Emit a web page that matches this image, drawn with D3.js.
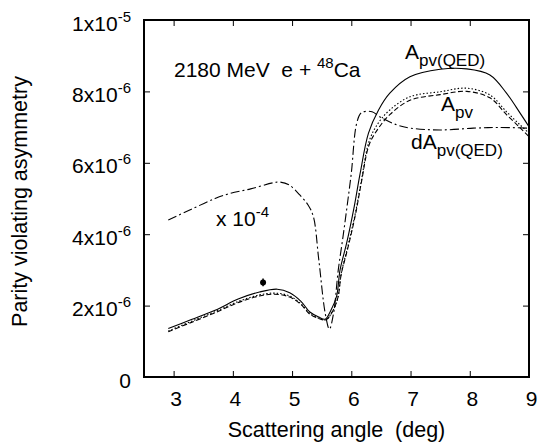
<!DOCTYPE html>
<html>
<head>
<meta charset="utf-8">
<script src="https://d3js.org/d3.v7.min.js"></script>
<style>
body { margin: 0; background: #fff; }
svg text { font-family: "Liberation Sans", Arial, sans-serif; fill: #000; white-space: pre; }
</style>
</head>
<body>
<svg id="vis" width="539" height="445"></svg>
<script>
// values, asymmetry in units of 1e-6
var angleQed = [2.91, 3.3, 3.7, 4.1, 4.45, 4.75, 4.96, 5.15, 5.3, 5.45, 5.56, 5.65, 5.75, 5.81, 5.92, 6.05, 6.15, 6.29, 6.46, 6.65, 6.99, 7.5, 7.95, 8.34, 8.62, 8.85, 9.0];
var apvQed   = [1.36, 1.61, 1.87, 2.19, 2.38, 2.46, 2.36, 2.12, 1.82, 1.68, 1.62, 1.85, 2.25, 3.0, 3.74, 4.78, 5.71, 6.83, 7.48, 7.95, 8.41, 8.62, 8.63, 8.46, 7.95, 7.39, 7.01];

var angleApv = [2.91, 3.3, 3.7, 4.1, 4.45, 4.7, 4.96, 5.15, 5.3, 5.45, 5.57, 5.67, 5.77, 5.83, 5.94, 6.07, 6.17, 6.3, 6.45, 6.65, 6.99, 7.5, 7.95, 8.34, 8.62, 8.85, 9.0];
var apv      = [1.29, 1.56, 1.83, 2.12, 2.3, 2.35, 2.27, 2.05, 1.78, 1.65, 1.6, 1.8, 2.2, 2.9, 3.65, 4.6, 5.5, 6.6, 7.1, 7.48, 7.85, 7.99, 8.09, 7.9, 7.43, 7.06, 6.83];
var apvDash  = [1.27, 1.53, 1.8, 2.09, 2.27, 2.32, 2.24, 2.03, 1.76, 1.64, 1.6, 1.8, 2.2, 2.88, 3.6, 4.55, 5.45, 6.5, 6.95, 7.35, 7.75, 7.91, 8.0, 7.82, 7.35, 6.98, 6.73];

var angleDA = [2.91, 3.3, 3.7, 3.95, 4.3, 4.68, 4.8, 4.95, 5.13, 5.27, 5.36, 5.45, 5.56, 5.63, 5.7, 5.78, 5.86, 5.93, 6.0, 6.09, 6.17, 6.35, 6.48, 6.77, 7.0, 7.5, 8.06, 8.5, 9.0];
var dApvQed = [4.4, 4.7, 5.0, 5.14, 5.27, 5.44, 5.46, 5.38, 5.1, 4.82, 4.49, 3.3, 1.78, 1.34, 1.78, 3.0, 3.93, 4.8, 5.71, 7.1, 7.4, 7.43, 7.29, 7.06, 6.97, 6.92, 6.97, 6.99, 6.97];

// measured point
var dataAngle = [4.51];
var dataApv = [2.65];
var dataErr = [0.11];

var xTicks = [3, 4, 5, 6, 7, 8, 9];
var yTicks = [0, 2, 4, 6, 8, 10];
var yTickMant = ["0", "2x10", "4x10", "6x10", "8x10", "1x10"];
var yTickExp = ["", "-6", "-6", "-6", "-6", "-5"];

var svg = d3.select("#vis"),
    width = +svg.attr("width"),
    height = +svg.attr("height");

var margin = {left: 144, top: 20, right: 10, bottom: 68};

var x = d3.scaleLinear().domain([2.5, 9]).range([margin.left, width - margin.right]);
var y = d3.scaleLinear().domain([0, 10]).range([height - margin.bottom, margin.top]);

var g = svg.append("g");

// text with sub / superscript parts
function rich(xp, yp, parts, anchor, size) {
  var t = g.append("text")
    .attr("x", xp).attr("y", yp)
    .attr("text-anchor", anchor || "start")
    .attr("font-size", size || 21);
  var shift = 0;
  parts.forEach(function(p) {
    var want = p.sup ? -9 : (p.sub ? 7 : 0);
    t.append("tspan")
      .attr("dy", want - shift)
      .attr("font-size", p.sup ? 15 : (p.sub ? 17 : (size || 21)))
      .text(p.t);
    shift = want;
  });
  return t;
}

// axes, ticks inward on all sides
var tl = 6;
var axB = g.append("g").attr("transform", "translate(0," + y(0) + ")")
  .call(d3.axisBottom(x).tickValues(xTicks).tickSize(-tl).tickFormat(""));
var axT = g.append("g").attr("transform", "translate(0," + y(10) + ")")
  .call(d3.axisTop(x).tickValues(xTicks).tickSize(-tl).tickFormat(""));
var axL = g.append("g").attr("transform", "translate(" + x(2.5) + ",0)")
  .call(d3.axisLeft(y).tickValues(yTicks).tickSize(-tl).tickFormat(""));
var axR = g.append("g").attr("transform", "translate(" + x(9) + ",0)")
  .call(d3.axisRight(y).tickValues(yTicks).tickSize(-tl).tickFormat(""));
[axB, axT, axL, axR].forEach(function(a) {
  a.select(".domain").remove();
  a.selectAll("line").attr("stroke", "#000").attr("stroke-width", 1);
});

g.append("rect")
  .attr("x", x(2.5)).attr("y", y(10))
  .attr("width", x(9) - x(2.5)).attr("height", y(0) - y(10))
  .attr("fill", "none").attr("stroke", "#000").attr("stroke-width", 2);

// tick labels
xTicks.forEach(function(v) {
  g.append("text").attr("x", x(v) + 2.5).attr("y", y(0) + 29)
    .attr("text-anchor", "middle").attr("font-size", 21).text(v);
});
yTicks.forEach(function(v, i) {
  var parts = [{t: yTickMant[i]}];
  if (yTickExp[i]) parts.push({t: yTickExp[i], sup: true});
  rich(x(2.5) - 13, y(v) + 10.5, parts, "end");
});

// axis titles
g.append("text")
  .attr("x", (x(2.5) + x(9)) / 2).attr("y", 437)
  .attr("text-anchor", "middle").attr("font-size", 21.5)
  .text("Scattering angle  (deg)");
g.append("text")
  .attr("transform", "translate(27," + ((y(0) + y(10)) / 2 + 3) + ") rotate(-90)")
  .attr("text-anchor", "middle").attr("font-size", 21.5)
  .text("Parity violating asymmetry");

// curves
svg.append("clipPath").attr("id", "clip").append("rect")
  .attr("x", x(2.5)).attr("y", y(10))
  .attr("width", x(9) - x(2.5)).attr("height", y(0) - y(10));

function curve(xs, ys, dash) {
  var line = d3.line()
    .x(function(d) { return x(d[0]); })
    .y(function(d) { return y(d[1]); })
    .curve(d3.curveCatmullRom.alpha(0.5));
  g.append("path")
    .datum(d3.zip(xs, ys))
    .attr("clip-path", "url(#clip)")
    .attr("d", line)
    .attr("fill", "none")
    .attr("stroke", "#000")
    .attr("stroke-width", 1.1)
    .attr("stroke-dasharray", dash);
}

curve(angleDA, dApvQed, "9,3,2,3");
curve(angleApv, apvDash, "5,2.5");
curve(angleApv, apv, "1.5,2");
curve(angleQed, apvQed, null);

// data point with error bar
var pts = d3.zip(dataAngle, dataApv, dataErr);
g.selectAll(".err").data(pts).enter().append("line")
  .attr("x1", function(d) { return x(d[0]); })
  .attr("x2", function(d) { return x(d[0]); })
  .attr("y1", function(d) { return y(d[1] - d[2]); })
  .attr("y2", function(d) { return y(d[1] + d[2]); })
  .attr("stroke", "#000").attr("stroke-width", 1.5);
g.selectAll(".pt").data(pts).enter().append("circle")
  .attr("cx", function(d) { return x(d[0]); })
  .attr("cy", function(d) { return y(d[1]); })
  .attr("r", 3).attr("fill", "#000");

// annotations
rich(x(3.006), y(8.4), [{t: "2180 MeV  e + "}, {t: "48", sup: true}, {t: "Ca"}]);
rich(x(6.907), y(8.92), [{t: "A"}, {t: "pv(QED)", sub: true}]);
rich(x(7.514), y(7.45), [{t: "A"}, {t: "pv", sub: true}]);
rich(x(7.008), y(6.40), [{t: "dA"}, {t: "pv(QED)", sub: true}]);
rich(x(3.716), y(4.23), [{t: "x 10"}, {t: "-4", sup: true}]);
</script>
</body>
</html>
